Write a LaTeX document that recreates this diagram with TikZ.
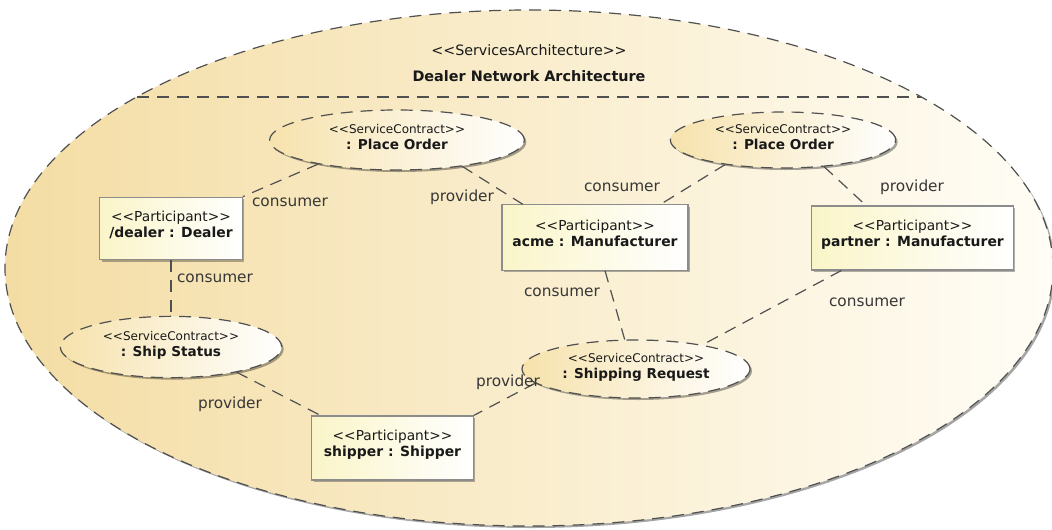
\documentclass[tikz,border=0pt]{standalone}
\usepackage{fontspec}
\newfontfamily\dvs{DejaVu Sans}
\usetikzlibrary{shapes.geometric,shadows,calc}
\definecolor{tanL}{RGB}{244,221,164}
\definecolor{tanM}{RGB}{250,237,204}
\definecolor{tanR}{RGB}{255,253,246}
\definecolor{ellL}{RGB}{246,226,172}
\definecolor{dashc}{RGB}{80,80,80}
\definecolor{boxb}{RGB}{140,140,140}
\definecolor{boxL}{RGB}{250,245,200}
\definecolor{txt}{RGB}{25,25,25}
\definecolor{lbl}{RGB}{55,55,55}
\newcommand\mkstc[1]{{\fontsize{9}{15}\selectfont <<ServiceContract>>}\\{\bfseries\fontsize{10.2}{15}\selectfont #1\rule[-5pt]{0pt}{5pt}}}
\newcommand\mkpart[1]{{\fontsize{10.3}{20}\selectfont <<Participant>>}\\{\bfseries\fontsize{10.45}{20}\selectfont #1\rule[-7pt]{0pt}{7pt}}}
\begin{document}
\begin{tikzpicture}[x=0.75pt,y=-0.75pt,
  conn/.style={draw=dashc, line width=0.9pt, dash pattern=on 9pt off 6pt},
  bigell/.style={ellipse, draw=dashc, line width=0.9pt, dash pattern=on 9pt off 6pt,
    minimum width=786pt, minimum height=387pt, inner sep=0pt,
    left color=tanL, middle color=tanM, right color=tanR,
    drop shadow={shadow xshift=1.5pt, shadow yshift=-1.5pt, fill=black, opacity=0.35}},
  contract/.style={ellipse, draw=dashc, line width=0.9pt, dash pattern=on 9pt off 6pt,
    left color=ellL, right color=white, inner sep=0pt, align=center, text=txt, font=\dvs,
    drop shadow={shadow xshift=1.5pt, shadow yshift=-1.5pt, fill=black, opacity=0.35}},
  part/.style={rectangle, draw=boxb, line width=0.8pt, left color=boxL, right color=white,
    inner sep=0pt, align=center, text=txt, font=\dvs,
    drop shadow={shadow xshift=1.5pt, shadow yshift=-1.5pt, fill=black, opacity=0.3}},
  lab/.style={font=\dvs\fontsize{11.5}{13}\selectfont, text=lbl, inner sep=0pt},
  ttl/.style={font=\dvs\fontsize{10.7}{13}\selectfont, text=txt, inner sep=0pt},
  ttlb/.style={font=\dvs\bfseries\fontsize{10.8}{13}\selectfont, text=txt, inner sep=0pt}
]
\useasboundingbox (0,0) rectangle (1052,529);
\fill[white] (0,0) rectangle (1052,529);
\node[bigell] (arch) at (529,268) {};
\coordinate (divL) at (137,97);
\coordinate (divR) at (921,97);
\draw[conn] (divL) -- (divR);
\node[ttl] (archst) at (529,50) {<<ServicesArchitecture>>};
\node[ttlb] (archnm) at (529,76) {Dealer Network Architecture};

% service contracts
\node[contract, minimum width=191pt, minimum height=45pt] (po1) at (397,140) {\mkstc{: Place Order}};
\node[contract, minimum width=169pt, minimum height=42pt] (po2) at (783,140) {\mkstc{: Place Order}};
\node[contract, minimum width=166pt, minimum height=46pt] (ss) at (171,347) {\mkstc{: Ship Status}};
\node[contract, minimum width=171pt, minimum height=43.5pt] (sr) at (636,369) {\mkstc{: Shipping Request}};

% participants
\node[part, minimum width=107pt, minimum height=47pt] (dealer) at (171,228.5) {\mkpart{/dealer : Dealer}};
\node[part, minimum width=139.5pt, minimum height=49pt] (acme) at (595,237.5) {\mkpart{acme : Manufacturer}};
\node[part, minimum width=151pt, minimum height=48pt] (partner) at (912.5,238) {\mkpart{partner : Manufacturer}};
\node[part, minimum width=121pt, minimum height=48pt] (shipper) at (392.5,448) {\mkpart{shipper : Shipper}};

% connectors
\draw[conn] (po1.197) -- (dealer.north east);
\draw[conn] (po1.-22) -- ([xshift=16pt]acme.north west);
\draw[conn] (po2.203) -- ([xshift=-21pt]acme.north east);
\draw[conn] (po2.-33) -- ([xshift=41pt]partner.north west);
\draw[conn] (dealer.south) -- (ss.north);
\draw[conn] (ss.-21) -- ([xshift=7pt]shipper.north west);
\draw[conn] ([xshift=7.5pt]acme.south) -- (sr.111);
\draw[conn] ([xshift=22.5pt]partner.south west) -- (sr.20);
\draw[conn] (sr.188) -- (shipper.north east);

% role labels
\node[lab] (l1) at (290,202) {consumer};
\node[lab] (l2) at (462,197) {provider};
\node[lab] (l3) at (622,187) {consumer};
\node[lab] (l4) at (912,187) {provider};
\node[lab] (l5) at (215,278) {consumer};
\node[lab] (l6) at (230,404) {provider};
\node[lab] (l7) at (562,292) {consumer};
\node[lab] (l8) at (867,302) {consumer};
\node[lab] (l9) at (508,382) {provider};
\end{tikzpicture}
\end{document}
